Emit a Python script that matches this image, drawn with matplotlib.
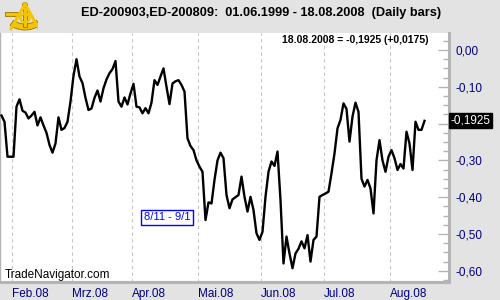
import matplotlib
matplotlib.use("Agg")
import matplotlib.pyplot as plt
from matplotlib.patches import Wedge, Rectangle, Circle
from matplotlib.ticker import MultipleLocator, FuncFormatter

# ── Data (one value per daily bar, 28.01.2008 .. 18.08.2008) ─────────────────
spread = [
    -0.178, -0.195, -0.290, -0.290, -0.290, -0.154, -0.134, -0.165, -0.170, -0.186,
    -0.178, -0.168, -0.205, -0.183, -0.205, -0.225, -0.258, -0.279, -0.254, -0.183,
    -0.217, -0.212, -0.195, -0.140, -0.070, -0.025, -0.072, -0.090, -0.130, -0.163,
    -0.159, -0.130, -0.110, -0.140, -0.104, -0.080, -0.063, -0.052, -0.030, -0.140,
    -0.154, -0.129, -0.148, -0.118, -0.092, -0.154, -0.156, -0.172, -0.158, -0.172,
    -0.143, -0.082, -0.095, -0.072, -0.050, -0.100, -0.147, -0.091, -0.085, -0.082,
    -0.095, -0.113, -0.240, -0.261, -0.272, -0.300, -0.317, -0.331, -0.462, -0.414,
    -0.417, -0.353, -0.300, -0.279, -0.294, -0.394, -0.430, -0.406, -0.400, -0.394,
    -0.344, -0.399, -0.439, -0.399, -0.435, -0.498, -0.516, -0.494, -0.399, -0.331,
    -0.303, -0.315, -0.276, -0.408, -0.580, -0.507, -0.553, -0.593, -0.553, -0.540,
    -0.520, -0.539, -0.503, -0.575, -0.516, -0.507, -0.399, -0.394, -0.390, -0.385,
    -0.335, -0.281, -0.213, -0.190, -0.145, -0.160, -0.249, -0.181, -0.143, -0.168,
    -0.350, -0.371, -0.353, -0.376, -0.444, -0.300, -0.245, -0.300, -0.331, -0.290,
    -0.272, -0.294, -0.326, -0.310, -0.322, -0.222, -0.254, -0.326, -0.195, -0.217,
    -0.217, -0.1925,
]
month_first_bar = [4, 24, 44, 66, 87, 108, 130]
month_labels = ["Feb.08", "Mrz.08", "Apr.08", "Mai.08", "Jun.08", "Jul.08", "Aug.08"]
last_value = -0.1925
last_change = 0.0175
last_date = "18.08.2008"
title = "ED-200903,ED-200809:  01.06.1999 - 18.08.2008  (Daily bars)"
note_label = "8/11 - 9/1"
note_bar, note_value = 47.5, -0.455


def de(v, digits):
    """German decimal comma."""
    return f"{v:.{digits}f}".replace(".", ",")


# ── Style ────────────────────────────────────────────────────────────────────
plt.rcParams["font.family"] = ["Liberation Sans", "DejaVu Sans"]
BG = "#e3e3e3"
AXIS = "#b4b4b4"
NAVY = "#000080"
GRID = "#c4c4c4"

W, H = 500, 300
fig = plt.figure(figsize=(5, 3), dpi=100, facecolor=BG)

# plot area in pixel terms: x 0..449, y 33..282
left, right, top, bottom = 0, 449, 33, 282
ax = fig.add_axes([left / W, 1 - bottom / H, (right - left) / W, (bottom - top) / H])
ax.set_facecolor("white")

x = list(range(len(spread)))
ax.plot(x, spread, color="black", linewidth=1.7, zorder=3)

ax.set_xlim(-0.5, (right - 1.5) / 3)
ax.set_ylim(-(bottom - 50) / 368, (50 - top) / 368)

for b in month_first_bar:
    ax.axvline(b - 0.5, color=GRID, linestyle=(0, (3, 3)), linewidth=0.8, zorder=1)

ax.set_xticks([b - 0.5 for b in month_first_bar])
ax.set_xticklabels(month_labels, ha="left", color=NAVY, fontsize=8.5)
ax.tick_params(axis="x", length=0, pad=4)


def ylabel(v, pos):
    if abs(v - last_value) < 0.03:
        return ""   # hidden behind the last-value box
    s = de(v, 2)
    return "0,00" if s == "-0,00" else s


ax.yaxis.tick_right()
ax.yaxis.set_major_locator(MultipleLocator(0.1))
ax.yaxis.set_minor_locator(MultipleLocator(0.025))
ax.yaxis.set_major_formatter(FuncFormatter(ylabel))
ax.tick_params(axis="y", which="major", direction="in", length=8, width=1, color=AXIS,
               labelcolor=NAVY, labelsize=8.5, pad=5)
ax.tick_params(axis="y", which="minor", direction="in", length=4.5, width=1, color=AXIS)

ax.spines["top"].set_visible(False)
ax.spines["left"].set_color(AXIS)
ax.spines["left"].set_linewidth(1)
for s in ("right", "bottom"):
    ax.spines[s].set_color(AXIS)
    ax.spines[s].set_linewidth(2.2)

# last value marker on the right scale
ax.annotate(de(last_value, 4), xy=(1, last_value), xycoords=("axes fraction", "data"),
            xytext=(1, 0), textcoords="offset points", ha="left", va="center",
            color="white", fontsize=8.5, annotation_clip=False,
            bbox=dict(boxstyle="square,pad=0.12", fc="black", ec="black"), zorder=5)

ax.text(note_bar, note_value, note_label, color="#0000ff", fontsize=8, ha="left", va="center",
        bbox=dict(boxstyle="square,pad=0.25", fc="white", ec="#0000ff", lw=1), zorder=4)

fig.text(261 / W, 1 - 13 / H, title, ha="center", va="center", fontsize=9.2, fontweight="bold")
sign = "+" if last_change >= 0 else "-"
fig.text(429 / W, 1 - 40 / H,
         f"{last_date} = {de(last_value, 4)} ({sign}{de(abs(last_change), 4)})",
         ha="right", va="center", fontsize=7.5, fontweight="bold")
fig.text(5 / W, 1 - 275 / H, "TradeNavigator.com", ha="left", va="center", fontsize=8.5)

# small sextant logo in the top-left corner
logo = fig.add_axes([2 / W, 1 - 35 / H, 36 / W, 34 / H])
logo.set_xlim(0, 36)
logo.set_ylim(0, 34)
logo.axis("off")
gold, dark = "#f5c400", "#9a7200"
logo.add_patch(Wedge((23, 31), 26, 235, 305, width=6, fc=gold, ec=dark, lw=0.6))
logo.plot([23, 9], [31, 6], color=gold, lw=2.2, solid_capstyle="round")
logo.plot([23, 37], [31, 6], color=gold, lw=2.2, solid_capstyle="round")
logo.add_patch(Rectangle((21, 8), 4, 22, fc=gold, ec=dark, lw=0.6))
logo.add_patch(Rectangle((3, 19), 14, 4.5, fc=gold, ec=dark, lw=0.6))
logo.add_patch(Circle((23, 17), 4.5, fc="none", ec=gold, lw=1.8))
logo.add_patch(Circle((23, 30), 2.5, fc=gold, ec=dark, lw=0.6))

fig.savefig("out.png", dpi=100, facecolor=BG)
